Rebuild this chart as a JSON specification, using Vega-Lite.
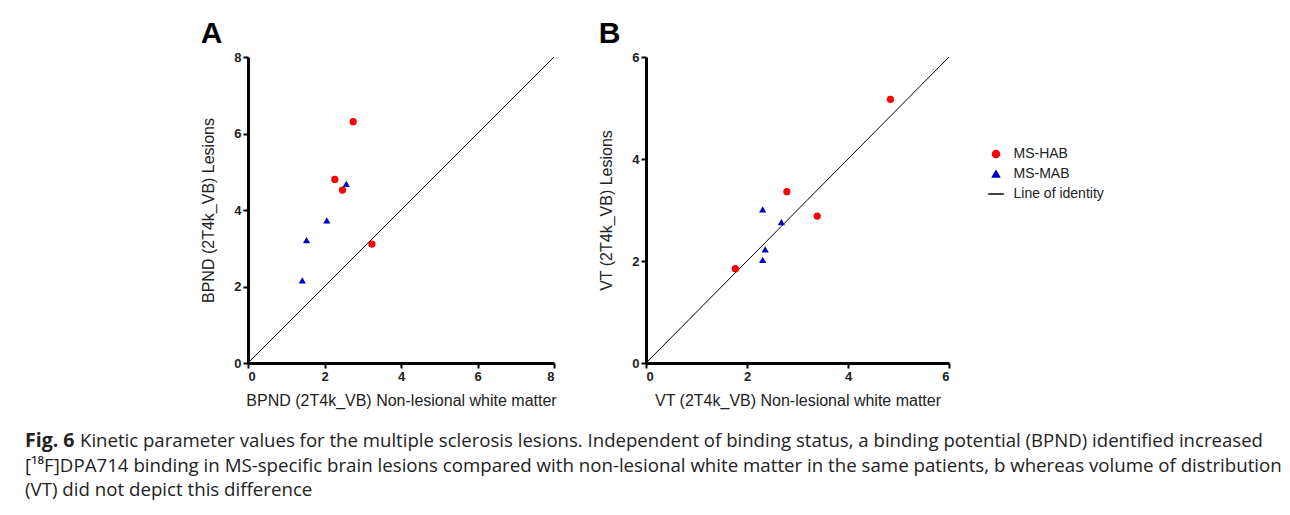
{
  "$schema": "https://vega.github.io/schema/vega-lite/v6.json",
  "background": "white",
  "padding": {"left": 25, "top": 19, "right": 0, "bottom": 0},
  "config": {
    "font": "Liberation Sans",
    "view": {"stroke": null},
    "axis": {
      "grid": false,
      "domainColor": "black",
      "domainWidth": 3,
      "tickColor": "black",
      "tickWidth": 2,
      "tickSize": 5,
      "labelFont": "Liberation Sans",
      "labelFontWeight": "bold",
      "labelFontSize": 13,
      "labelColor": "#222222",
      "labelPadding": 2,
      "titleFont": "Liberation Sans",
      "titleFontWeight": "normal",
      "titleFontSize": 16,
      "titleColor": "#222222"
    },
    "axisX": {"titlePadding": 9},
    "axisY": {"titlePadding": 17},
    "title": {"fontSize": 30, "fontWeight": "bold", "anchor": "start", "frame": "bounds", "color": "#000000", "offset": 2, "font": "Liberation Sans"},
    "legend": {"labelFont": "Liberation Sans", "labelFontSize": 14, "labelColor": "#222222", "labelOffset": 10.5, "rowPadding": 6, "symbolSize": 50}
  },
  "vconcat": [
    {
      "hconcat": [
        {
          "width": 134,
          "height": 10,
          "data": {"values": []},
          "mark": {"type": "point", "opacity": 0},
          "encoding": {}
        },
        {
          "width": 306,
          "height": 306,
          "title": {"text": "A"},
          "layer": [
            {
              "data": {"values": [
                {"x": 0, "y": 0, "series": "Line of identity"},
                {"x": 8, "y": 8, "series": "Line of identity"}
              ]},
              "mark": {"type": "line", "strokeWidth": 1},
              "encoding": {
                "x": {"field": "x", "type": "quantitative", "scale": {"domain": [0, 8], "nice": false}, "axis": {"values": [0, 2, 4, 6, 8], "title": "BPND (2T4k_VB) Non-lesional white matter"}},
                "y": {"field": "y", "type": "quantitative", "scale": {"domain": [0, 8], "nice": false}, "axis": {"values": [0, 2, 4, 6, 8], "title": "BPND (2T4k_VB) Lesions"}},
                "color": {"field": "series", "type": "nominal", "scale": {"domain": ["MS-HAB", "MS-MAB", "Line of identity"], "range": ["#ff0000", "#0000c8", "#000000"]}, "legend": null}
              }
            },
            {
              "data": {"values": [
                {"x": 2.75, "y": 6.31, "series": "MS-HAB"},
                {"x": 2.27, "y": 4.80, "series": "MS-HAB"},
                {"x": 2.47, "y": 4.52, "series": "MS-HAB"},
                {"x": 3.24, "y": 3.11, "series": "MS-HAB"},
                {"x": 2.57, "y": 4.68, "series": "MS-MAB"},
                {"x": 2.06, "y": 3.73, "series": "MS-MAB"},
                {"x": 1.53, "y": 3.21, "series": "MS-MAB"},
                {"x": 1.42, "y": 2.16, "series": "MS-MAB"}
              ]},
              "mark": {"type": "point", "filled": true, "size": 52, "opacity": 1},
              "encoding": {
                "x": {"field": "x", "type": "quantitative"},
                "y": {"field": "y", "type": "quantitative"},
                "color": {"field": "series", "type": "nominal", "legend": null},
                "shape": {"field": "series", "type": "nominal", "scale": {"domain": ["MS-HAB", "MS-MAB", "Line of identity"], "range": ["circle", "triangle-up", "M-2.2,0H2.2"]}, "legend": null}
              }
            }
          ]
        },
        {
          "width": 303,
          "height": 306,
          "title": {"text": "B"},
          "layer": [
            {
              "data": {"values": [
                {"x": 0, "y": 0, "series": "Line of identity"},
                {"x": 6, "y": 6, "series": "Line of identity"}
              ]},
              "mark": {"type": "line", "strokeWidth": 1},
              "encoding": {
                "x": {"field": "x", "type": "quantitative", "scale": {"domain": [0, 6], "nice": false}, "axis": {"values": [0, 2, 4, 6], "title": "VT (2T4k_VB) Non-lesional white matter"}},
                "y": {"field": "y", "type": "quantitative", "scale": {"domain": [0, 6], "nice": false}, "axis": {"values": [0, 2, 4, 6], "title": "VT (2T4k_VB) Lesions"}},
                "color": {"field": "series", "type": "nominal"}
              }
            },
            {
              "data": {"values": [
                {"x": 4.84, "y": 5.17, "series": "MS-HAB"},
                {"x": 2.79, "y": 3.36, "series": "MS-HAB"},
                {"x": 3.39, "y": 2.88, "series": "MS-HAB"},
                {"x": 1.77, "y": 1.85, "series": "MS-HAB"},
                {"x": 2.31, "y": 3.01, "series": "MS-MAB"},
                {"x": 2.68, "y": 2.76, "series": "MS-MAB"},
                {"x": 2.36, "y": 2.23, "series": "MS-MAB"},
                {"x": 2.31, "y": 2.02, "series": "MS-MAB"}
              ]},
              "mark": {"type": "point", "filled": true, "size": 52, "opacity": 1},
              "encoding": {
                "x": {"field": "x", "type": "quantitative"},
                "y": {"field": "y", "type": "quantitative"},
                "color": {"field": "series", "type": "nominal", "legend": {"title": null, "orient": "none", "legendX": 343, "legendY": 90, "encode": {"symbols": {"update": {"fill": {"signal": "datum.value === 'Line of identity' ? 'transparent' : scale('color', datum.value)"}, "stroke": {"signal": "scale('color', datum.value)"}, "strokeWidth": {"value": 1.2}}}}}},
                "shape": {"field": "series", "type": "nominal", "legend": {"title": null, "orient": "none", "legendX": 343, "legendY": 90}}
              }
            }
          ]
        }
      ],
      "spacing": 41,
      "resolve": {"legend": {"color": "independent", "shape": "independent"}}
    },
    {
      "width": 1250,
      "height": 73.5,
      "layer": [
        {
          "data": {"values": [{"line": 1, "text": "Fig. 6"}]},
          "mark": {"type": "text", "align": "left", "baseline": "middle", "font": "Open Sans", "fontSize": 19.5, "fontWeight": "bold", "color": "#222222"},
          "encoding": {
            "x": {"datum": 0, "type": "quantitative", "scale": {"domain": [0, 1]}, "axis": null},
            "y": {"field": "line", "type": "ordinal", "scale": {"type": "point", "padding": 0.5, "domain": [1, 2, 3]}, "axis": null},
            "text": {"field": "text"}
          }
        },
        {
          "data": {"values": [{"line": 1, "text": "Kinetic parameter values for the multiple sclerosis lesions. Independent of binding status, a binding potential (BPND) identified increased"}]},
          "mark": {"type": "text", "align": "left", "baseline": "middle", "font": "Open Sans", "fontSize": 18.6, "color": "#222222", "dx": 55},
          "encoding": {
            "x": {"datum": 0, "type": "quantitative"},
            "y": {"field": "line", "type": "ordinal"},
            "text": {"field": "text"}
          }
        },
        {
          "data": {"values": [
            {"line": 2, "text": "[¹⁸F]DPA714 binding in MS-specific brain lesions compared with non-lesional white matter in the same patients, b whereas volume of distribution"},
            {"line": 3, "text": "(VT) did not depict this difference"}
          ]},
          "mark": {"type": "text", "align": "left", "baseline": "middle", "font": "Open Sans", "fontSize": 18.7, "color": "#222222"},
          "encoding": {
            "x": {"datum": 0, "type": "quantitative"},
            "y": {"field": "line", "type": "ordinal"},
            "text": {"field": "text"}
          }
        }
      ]
    }
  ],
  "spacing": 21
}
